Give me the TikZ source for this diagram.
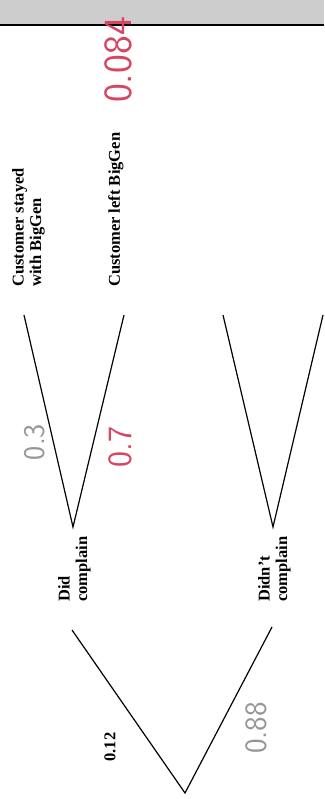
\documentclass[tikz,border=0pt]{standalone}
\usepackage{fontspec}
\setmainfont{Liberation Serif}
\definecolor{inkred}{RGB}{214,70,100}
\definecolor{inkgray}{RGB}{150,150,150}
\definecolor{band}{RGB}{205,205,205}
\begin{document}
\begin{tikzpicture}[x=1pt,y=-1pt,
  branch/.style={line width=1.2pt, black},
  label/.style={rotate=90, inner sep=0pt, align=left,
    font=\bfseries\fontsize{16.5}{17.5}\selectfont},
  handred/.style={rotate=90, inner sep=0pt, text=inkred},
  handgray/.style={rotate=90, inner sep=0pt, text=inkgray}]
\useasboundingbox (0,0) rectangle (324,799);
% top scanned band and rule
\fill[band] (0,0) rectangle (324,24);
\draw[line width=1.6pt] (0,25) -- (324,25);
% tree points
\coordinate (root) at (185,793);
\coordinate (did) at (73,527);
\coordinate (didnt) at (273,527);
\coordinate (rdid) at (72,630);
\coordinate (rdidnt) at (272,627);
\coordinate (s1) at (24,315);
\coordinate (l1) at (124,315);
\coordinate (s2) at (223,315);
\coordinate (l2) at (323,315);
\draw[branch] (rdid) -- (root) -- (rdidnt);
\draw[branch] (s1) -- (did) -- (l1);
\draw[branch] (s2) -- (didnt) -- (l2);
% printed labels
\node[label, anchor=north west] (stay) at (12,287) {Customer stayed\\with BigGen};
\node[label, anchor=north west] (left) at (108,287) {Customer left BigGen};
\node[label, anchor=north west] (didc) at (58,602) {Did\\complain};
\node[label, anchor=north west] (didntc) at (258,602) {Didn't\\complain};
\node[label] (p12) at (110,747) {0.12};
% handwritten values
\node[handred, font=\sffamily\fontsize{40}{40}\selectfont] (p084) at (118,60) {0.084};
\node[handgray, font=\sffamily\fontsize{30}{30}\selectfont] (p3) at (35,442) {0.3};
\node[handred, font=\sffamily\fontsize{34}{34}\selectfont] (p7) at (120,447) {0.7};
\node[handgray, font=\sffamily\fontsize{31}{31}\selectfont] (p88) at (256,728) {0.88};
\end{tikzpicture}
\end{document}
